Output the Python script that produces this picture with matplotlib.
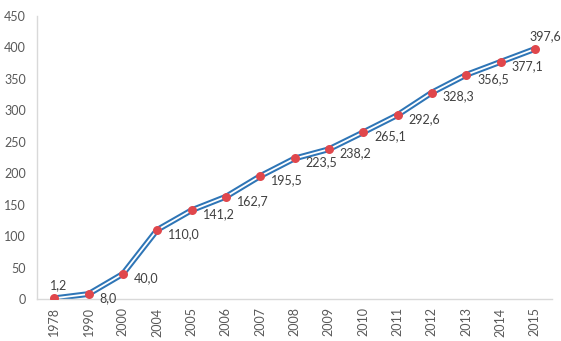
import matplotlib
matplotlib.use("Agg")
import matplotlib.pyplot as plt
import numpy as np

years = ['1978', '1990', '2000', '2004', '2005', '2006', '2007', '2008',
         '2009', '2010', '2011', '2012', '2013', '2014', '2015']
values = [1.2, 8.0, 40.0, 110.0, 141.2, 162.7, 195.5, 223.5,
          238.2, 265.1, 292.6, 328.3, 356.5, 377.1, 397.6]
y_ticks = [0, 50, 100, 150, 200, 250, 300, 350, 400, 450]

plt.rcParams['font.family'] = ['Lato', 'DejaVu Sans']

fig = plt.figure(figsize=(5.61, 3.41), dpi=100)
ax = fig.add_axes([0.066, 0.123, 0.918, 0.830])

x = np.arange(len(years))
# double line: thick blue with thin white core
ax.plot(x, values, color='#2E75B6', lw=4.2, solid_capstyle='butt', zorder=2)
ax.plot(x, values, color='white', lw=1.3, solid_capstyle='butt', zorder=3)
ax.scatter(x, values, s=42, color='#E0474C', zorder=4, linewidths=0)

above = {0: (4, 13), len(years) - 1: (10, 13)}
for i, v in enumerate(values):
    lbl = f"{v:.1f}".replace('.', ',')
    if i in above:
        ax.annotate(lbl, (x[i], v), xytext=above[i], textcoords='offset pixels',
                    ha='center', va='center', fontsize=9, color='#404040')
    else:
        ax.annotate(lbl, (x[i], v), xytext=(11, -4), textcoords='offset pixels',
                    ha='left', va='center', fontsize=9, color='#404040')

ax.set_xlim(-0.5, len(years) - 0.5)
ax.set_ylim(0, 450)
ax.set_yticks(y_ticks)
ax.set_xticks(x)
ax.set_xticklabels(years, rotation=90)
ax.tick_params(axis='both', length=0, labelsize=9, labelcolor='#595959')
ax.tick_params(axis='y', pad=8)
ax.tick_params(axis='x', pad=6)

for side in ['top', 'right']:
    ax.spines[side].set_visible(False)
for side in ['left', 'bottom']:
    ax.spines[side].set_color('#D9D9D9')
    ax.spines[side].set_linewidth(1.0)

fig.savefig('out.png', dpi=100)
